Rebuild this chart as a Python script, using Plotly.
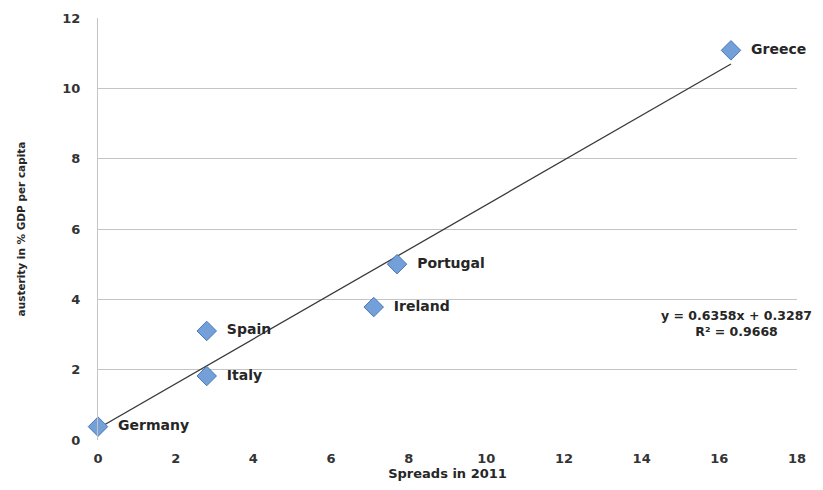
import plotly.graph_objects as go

countries = ["Germany", "Italy", "Spain", "Ireland", "Portugal", "Greece"]
spreads = [0.0, 2.8, 2.8, 7.1, 7.7, 16.3]
austerity = [0.38, 1.82, 3.1, 3.78, 5.0, 11.08]
slope = 0.6358
intercept = 0.3287
r2 = 0.9668
x_ticks = [0, 2, 4, 6, 8, 10, 12, 14, 16, 18]
y_ticks = [0, 2, 4, 6, 8, 10, 12]

FONT = "DejaVu Sans"
TXT = "#262626"
trend_x = [min(spreads), max(spreads)]
trend_y = [slope * v + intercept for v in trend_x]

fig = go.Figure()
fig.add_trace(go.Scatter(
    x=trend_x, y=trend_y, mode="lines",
    line=dict(color="#3a3a3a", width=1.3), hoverinfo="skip", showlegend=False))
fig.add_trace(go.Scatter(
    x=spreads, y=austerity, mode="markers+text",
    marker=dict(symbol="diamond", size=15, color="#74a0da",
                line=dict(color="#4a78b8", width=1)),
    text=["&nbsp;&nbsp;" + c for c in countries],
    textposition="middle right",
    textfont=dict(family=FONT, size=14, color=TXT, weight="bold"),
    showlegend=False, cliponaxis=False))

fig.add_annotation(
    x=1.0, xref="paper", xanchor="right", xshift=17,
    y=3.32, yref="y", yanchor="middle",
    text=f"y = {slope}x + {intercept}<br>R\u00b2 = {r2}", showarrow=False,
    align="center", font=dict(family=FONT, size=12.5, color=TXT, weight="bold"))

# page body has an 8px default margin: figure sized and margins set so the
# plot area lands where the reference has it, without page scrollbars
fig.update_layout(
    width=807, height=474,
    margin=dict(l=90, r=18, t=10, b=42),
    plot_bgcolor="white", paper_bgcolor="white",
    xaxis=dict(range=[0, 18], tickvals=x_ticks, showgrid=False, zeroline=False,
               showline=False, ticks="", ticklabelstandoff=9, automargin=False,
               tickfont=dict(family=FONT, size=13, color="#333333", weight="bold"),
               title=dict(text="Spreads in 2011", standoff=2,
                          font=dict(family=FONT, size=13, color=TXT, weight="bold"))),
    yaxis=dict(range=[0, 12], tickvals=y_ticks, showgrid=True, gridcolor="#c4c4c4",
               gridwidth=1.2, zeroline=False, showline=True, linecolor="#c4c4c4",
               linewidth=1.2, ticks="", ticklabelstandoff=14, automargin=False,
               tickfont=dict(family=FONT, size=13, color="#333333", weight="bold"),
               title=dict(text="austerity in % GDP per capita", standoff=34,
                          font=dict(family=FONT, size=10.5, color=TXT, weight="bold"))),
)

fig.write_html("out.html")
